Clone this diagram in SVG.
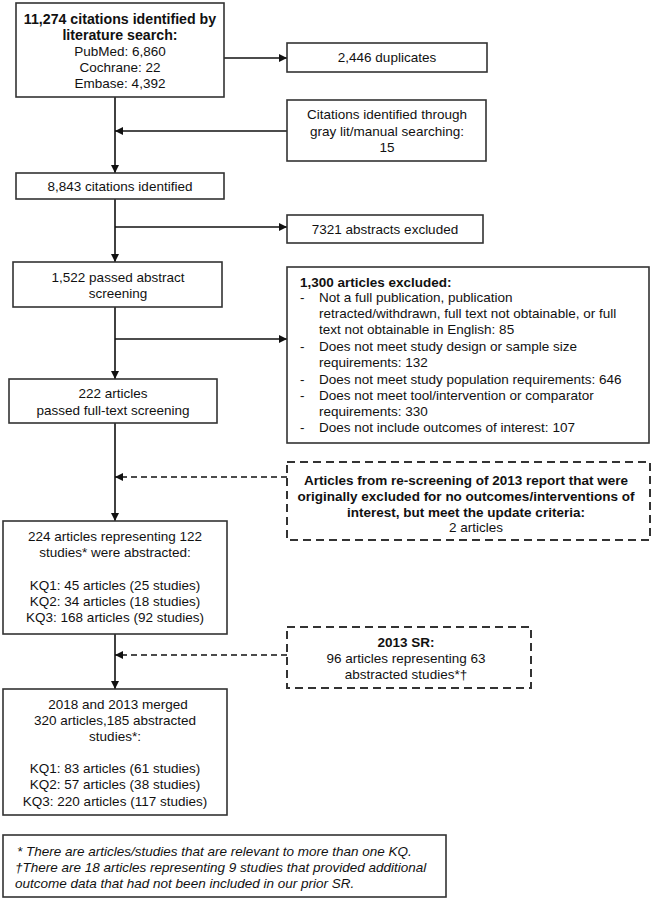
<svg xmlns="http://www.w3.org/2000/svg" width="653" height="900" viewBox="0 0 653 900">
<defs>
<marker id="ah" viewBox="0 0 10 10" refX="10" refY="5" markerWidth="9" markerHeight="8" markerUnits="userSpaceOnUse" orient="auto">
<path d="M0,0 L10,5 L0,10 Z" fill="#111"/>
</marker>
</defs>
<style>
.box{fill:#fff;stroke:#333;stroke-width:1.6}
.dbox{fill:#fff;stroke:#333;stroke-width:2;stroke-dasharray:8,5}
text{font-family:"Liberation Sans",Arial,sans-serif;font-size:13.5px;fill:#111}
.c{text-anchor:middle}
.b{font-weight:bold}
.big{font-size:14.2px}
.i{font-style:italic}
.ln{stroke:#111;stroke-width:1.6;fill:none}
.dl{stroke:#111;stroke-width:1.6;fill:none;stroke-dasharray:6,4}
</style>
<g id="connectors">
<line class="ln" x1="115" y1="97" x2="115" y2="173" marker-end="url(#ah)"/>
<line class="ln" x1="224" y1="58" x2="287" y2="58" marker-end="url(#ah)"/>
<line class="ln" x1="287" y1="131" x2="115" y2="131" marker-end="url(#ah)"/>
<line class="ln" x1="115" y1="199" x2="115" y2="262" marker-end="url(#ah)"/>
<line class="ln" x1="115" y1="227" x2="287" y2="227" marker-end="url(#ah)"/>
<line class="ln" x1="115" y1="307" x2="115" y2="379" marker-end="url(#ah)"/>
<line class="ln" x1="115" y1="339" x2="287" y2="339" marker-end="url(#ah)"/>
<line class="ln" x1="115" y1="423" x2="115" y2="521" marker-end="url(#ah)"/>
<line class="dl" x1="287" y1="477" x2="115" y2="477" marker-end="url(#ah)"/>
<line class="ln" x1="115" y1="634" x2="115" y2="689" marker-end="url(#ah)"/>
<line class="dl" x1="287" y1="655" x2="115" y2="655" marker-end="url(#ah)"/>
</g>
<g id="search">
<rect class="box" x="16" y="3" width="208" height="94"/>
<text class="c b big" x="120" y="24">11,274 citations identified by</text>
<text class="c b big" x="120" y="40">literature search:</text>
<text class="c" x="120" y="56">PubMed: 6,860</text>
<text class="c" x="120" y="72">Cochrane: 22</text>
<text class="c" x="120" y="88">Embase: 4,392</text>
</g>
<g id="duplicates">
<rect class="box" x="287" y="43" width="200" height="29"/>
<text class="c" x="387" y="62">2,446 duplicates</text>
</g>
<g id="graylit">
<rect class="box" x="287" y="100" width="199" height="61"/>
<text class="c" x="387" y="119">Citations identified through</text>
<text class="c" x="387" y="136">gray lit/manual searching:</text>
<text class="c" x="387" y="152">15</text>
</g>
<g id="identified">
<rect class="box" x="16" y="173" width="208" height="26"/>
<text class="c" x="120" y="191">8,843 citations identified</text>
</g>
<g id="abstractsExcluded">
<rect class="box" x="287" y="215" width="196" height="28"/>
<text class="c" x="385" y="234">7321 abstracts excluded</text>
</g>
<g id="abstractScreening">
<rect class="box" x="13" y="262" width="209" height="45"/>
<text class="c" x="118" y="282">1,522 passed abstract</text>
<text class="c" x="118" y="298">screening</text>
</g>
<g id="articlesExcluded">
<rect class="box" x="287" y="267" width="362" height="176"/>
<text class="b" x="300" y="287">1,300 articles excluded:</text>
<text x="300" y="302">-</text><text x="319" y="302">Not a full publication, publication</text>
<text x="319" y="318">retracted/withdrawn, full text not obtainable, or full</text>
<text x="319" y="334">text not obtainable in English: 85</text>
<text x="300" y="351">-</text><text x="319" y="351">Does not meet study design or sample size</text>
<text x="319" y="367">requirements: 132</text>
<text x="300" y="384">-</text><text x="319" y="384">Does not meet study population requirements: 646</text>
<text x="300" y="400">-</text><text x="319" y="400">Does not meet tool/intervention or comparator</text>
<text x="319" y="416">requirements: 330</text>
<text x="300" y="432">-</text><text x="319" y="432">Does not include outcomes of interest: 107</text>
</g>
<g id="fullText">
<rect class="box" x="9" y="379" width="208" height="44"/>
<text class="c" x="113" y="398">222 articles</text>
<text class="c" x="113" y="415">passed full-text screening</text>
</g>
<g id="rescreening">
<rect class="dbox" x="287" y="462" width="363" height="78"/>
<text class="c b" x="466" y="485">Articles from re-screening of 2013 report that were</text>
<text class="c b" x="466" y="501">originally excluded for no outcomes/interventions of</text>
<text class="c b" x="466" y="517">interest, but meet the update criteria:</text>
<text class="c" x="476" y="532">2 articles</text>
</g>
<g id="abstracted">
<rect class="box" x="3" y="521" width="224" height="113"/>
<text class="c" x="115" y="541">224 articles representing 122</text>
<text class="c" x="115" y="557">studies* were abstracted:</text>
<text class="c" x="115" y="590">KQ1: 45 articles (25 studies)</text>
<text class="c" x="115" y="606">KQ2: 34 articles (18 studies)</text>
<text class="c" x="115" y="622">KQ3: 168 articles (92 studies)</text>
</g>
<g id="sr2013">
<rect class="dbox" x="287" y="627" width="244" height="61"/>
<text class="c b" x="406" y="647">2013 SR:</text>
<text class="c" x="406" y="663">96 articles representing 63</text>
<text class="c" x="406" y="679">abstracted studies*†</text>
</g>
<g id="merged">
<rect class="box" x="3" y="689" width="224" height="126"/>
<text class="c" x="118" y="709">2018 and 2013 merged</text>
<text class="c" x="115" y="725">320 articles,185 abstracted</text>
<text class="c" x="115" y="741">studies*:</text>
<text class="c" x="115" y="773">KQ1: 83 articles (61 studies)</text>
<text class="c" x="115" y="789">KQ2: 57 articles (38 studies)</text>
<text class="c" x="115" y="806">KQ3: 220 articles (117 studies)</text>
</g>
<g id="footnote">
<rect class="box" x="3" y="835" width="443" height="62"/>
<text class="i" x="17" y="856">* There are articles/studies that are relevant to more than one KQ.</text>
<text class="i" x="15" y="872">†There are 18 articles representing 9 studies that provided additional</text>
<text class="i" x="15" y="888">outcome data that had not been included in our prior SR.</text>
</g>
</svg>
